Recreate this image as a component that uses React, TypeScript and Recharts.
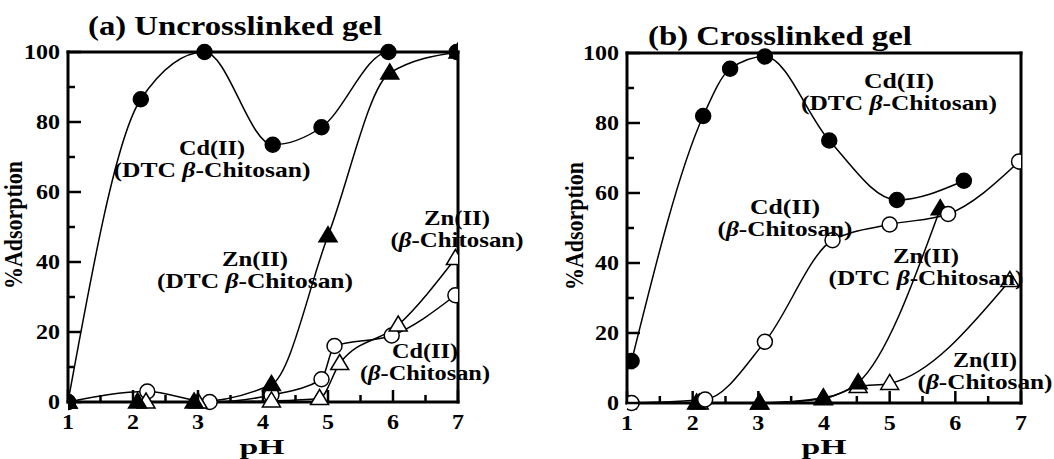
import React from 'react'
import { ComposedChart, Line, XAxis, YAxis } from 'recharts'

const FONT = '"Liberation Serif", "Times New Roman", Times, serif'

// (a) uncrosslinked gel
const phCdDtcA = [1, 2.12, 3.1, 4.15, 4.9, 5.93, 6.98]
const cdDtcA = [0, 86.5, 100, 73.5, 78.5, 100, 100]
const phZnDtcA = [1, 2.07, 2.94, 4.13, 5.0, 5.95, 7.0]
const znDtcA = [0, 0, 0, 5, 47.5, 94, 100]
const phZnBetaA = [1, 2.2, 3.0, 4.13, 4.87, 5.18, 6.08, 6.96]
const znBetaA = [0, 0, 0, 0.3, 1, 11, 22, 41]
const phCdBetaA = [1, 2.22, 3.18, 4.13, 4.9, 5.1, 5.98, 6.96]
const cdBetaA = [0, 3, 0, 2, 6.5, 16, 19, 30.5]

// (b) crosslinked gel
const phCdDtcB = [1.07, 2.16, 2.57, 3.1, 4.08, 5.11, 6.13]
const cdDtcB = [12, 82, 95.5, 99, 75, 58, 63.5]
const phCdBetaB = [1.07, 2.19, 3.1, 4.13, 5.0, 5.89, 6.97]
const cdBetaB = [0, 1, 17.5, 46.5, 51, 54, 69]
const phZnDtcB = [2.06, 3.02, 3.99, 4.52, 5.77]
const znDtcB = [0, 0, 1.5, 5.8, 55.5]
const phZnBetaB = [1.0, 2.1, 3.02, 3.99, 4.52, 5.0, 6.83]
const znBetaB = [0, 0, 0, 1.2, 4.7, 5.6, 35]

const xTicks = [1, 1.5, 2, 2.5, 3, 3.5, 4, 4.5, 5, 5.5, 6, 6.5, 7]
const yTicks = [0, 10, 20, 30, 40, 50, 60, 70, 80, 90, 100]

const pts = (xs: number[], ys: number[]) => xs.map((x, i) => ({ x, y: ys[i] }))

// glyphs in the picture are a little stretched sideways
const digitW = 12

const BottomTick = (p: any) => {
  const v = p.payload.value
  const major = Number.isInteger(v)
  return (
    <g>
      <line x1={p.x} y1={p.y} x2={p.x} y2={p.y - (major ? 12 : 7)} stroke="#000" strokeWidth={2.5} />
      {major && (
        <text x={p.x} y={p.y + 27} textAnchor="middle" fontFamily={FONT} fontWeight="bold" fontSize={21}
          textLength={digitW} lengthAdjust="spacingAndGlyphs" fill="#000">{v}</text>
      )}
    </g>
  )
}

const TopTick = (p: any) => {
  const major = Number.isInteger(p.payload.value)
  return <line x1={p.x} y1={p.y} x2={p.x} y2={p.y + (major ? 12 : 7)} stroke="#000" strokeWidth={2.5} />
}

const LeftTick = (p: any) => {
  const v = p.payload.value
  const major = v % 20 === 0
  const s = String(v)
  return (
    <g>
      <line x1={p.x} y1={p.y} x2={p.x + (major ? 13 : 7)} y2={p.y} stroke="#000" strokeWidth={2.5} />
      {major && (
        <text x={p.x - 8} y={p.y + 7} textAnchor="end" fontFamily={FONT} fontWeight="bold" fontSize={21}
          textLength={digitW * s.length} lengthAdjust="spacingAndGlyphs" fill="#000">{s}</text>
      )}
    </g>
  )
}

const dotCircle = (filled: boolean) => (p: any) => (
  <circle key={`c${p.index}`} cx={p.cx} cy={p.cy} r={7.5} fill={filled ? '#000' : '#fff'} stroke="#000" strokeWidth={1.5} />
)

const dotTriangle = (filled: boolean) => (p: any) => (
  <path key={`t${p.index}`} d={`M${p.cx},${p.cy - 9} L${p.cx + 9},${p.cy + 6} L${p.cx - 9},${p.cy + 6} Z`}
    fill={filled ? '#000' : '#fff'} stroke="#000" strokeWidth={1.5} />
)

const axisStyle = { stroke: '#000', strokeWidth: 3, strokeLinecap: 'square' as const }

interface Series {
  data: { x: number; y: number }[]
  dot: (p: any) => React.ReactElement
}

const Panel = ({ width, margin, series }: { width: number; margin: any; series: Series[] }) => (
  <ComposedChart width={width} height={459} margin={margin}>
    <XAxis xAxisId="top" orientation="top" type="number" domain={[1, 7]} ticks={xTicks} interval={0}
      height={2} axisLine={axisStyle} tickLine={false} tickSize={0} tickMargin={0} tick={(p: any) => <TopTick {...p} />} />
    <XAxis dataKey="x" type="number" domain={[1, 7]} ticks={xTicks} interval={0} allowDataOverflow
      height={40} axisLine={axisStyle} tickLine={false} tickSize={0} tickMargin={0} tick={(p: any) => <BottomTick {...p} />} />
    <YAxis type="number" domain={[0, 100]} ticks={yTicks} interval={0} width={60}
      axisLine={axisStyle} tickLine={false} tickSize={0} tickMargin={0} tick={(p: any) => <LeftTick {...p} />} />
    <YAxis yAxisId="right" orientation="right" type="number" domain={[0, 100]} width={2}
      axisLine={axisStyle} tick={false} tickLine={false} />
    {series.map((s, i) => (
      <Line key={i} data={s.data} dataKey="y" type="monotone" stroke="#000" strokeWidth={1.5}
        dot={s.dot} activeDot={false} legendType="none" isAnimationActive={false} />
    ))}
  </ComposedChart>
)

const Label2 = ({ cx, y, top, bottom, wTop, wBottom }: any) => (
  <g fontFamily={FONT} fontWeight="bold" fontSize={21} fill="#000">
    <text x={cx} y={y} textAnchor="middle" textLength={wTop} lengthAdjust="spacingAndGlyphs">{top}</text>
    <text x={cx} y={y + 22} textAnchor="middle" textLength={wBottom} lengthAdjust="spacingAndGlyphs">{bottom}</text>
  </g>
)

const dtc = <>(DTC <tspan fontStyle="italic">β</tspan>-Chitosan)</>
const beta = <>(<tspan fontStyle="italic">β</tspan>-Chitosan)</>

const YTitle = ({ x, y }: { x: number; y: number }) => (
  <g transform={`translate(${x},${y}) rotate(-90) scale(1,1.2)`}>
    <text x={0} y={6} textAnchor="middle" fontFamily={FONT} fontWeight="bold" fontSize={21}
      textLength={128} lengthAdjust="spacingAndGlyphs" fill="#000">%Adsorption</text>
  </g>
)

export default function App() {
  const seriesA: Series[] = [
    { data: pts(phCdBetaA, cdBetaA), dot: dotCircle(false) },
    { data: pts(phZnBetaA, znBetaA), dot: dotTriangle(false) },
    { data: pts(phCdDtcA, cdDtcA), dot: dotCircle(true) },
    { data: pts(phZnDtcA, znDtcA), dot: dotTriangle(true) },
  ]
  const seriesB: Series[] = [
    { data: pts(phZnBetaB, znBetaB), dot: dotTriangle(false) },
    { data: pts(phZnDtcB, znDtcB), dot: dotTriangle(true) },
    { data: pts(phCdDtcB, cdDtcB), dot: dotCircle(true) },
    { data: pts(phCdBetaB, cdBetaB), dot: dotCircle(false) },
  ]
  return (
    <div style={{ position: 'absolute', left: 0, top: 0, width: 1054, height: 459, background: '#fff', overflow: 'hidden' }}>
      <div style={{ position: 'absolute', left: 0, top: 0 }}>
        <Panel width={520} margin={{ top: 50, right: 60, bottom: 17, left: 8 }} series={seriesA} />
      </div>
      <div style={{ position: 'absolute', left: 530, top: 0 }}>
        <Panel width={524} margin={{ top: 51, right: 31, bottom: 16, left: 37 }} series={seriesB} />
      </div>
      <svg width={1054} height={459} style={{ position: 'absolute', left: 0, top: 0, pointerEvents: 'none' }}>
        <g fontFamily={FONT} fontWeight="bold" fontSize={28} fill="#000">
          <text x={88} y={35} textLength={294} lengthAdjust="spacingAndGlyphs">(a) Uncrosslinked gel</text>
          <text x={648} y={45} textLength={264} lengthAdjust="spacingAndGlyphs">(b) Crosslinked gel</text>
        </g>
        <g fontFamily={FONT} fontWeight="bold" fontSize={22} fill="#000">
          <text x={262} y={454} textAnchor="middle" textLength={45} lengthAdjust="spacingAndGlyphs">pH</text>
          <text x={824} y={454} textAnchor="middle" textLength={45} lengthAdjust="spacingAndGlyphs">pH</text>
        </g>
        <YTitle x={15} y={225} />
        <YTitle x={576} y={226} />

        <Label2 cx={212} y={155} top="Cd(II)" bottom={dtc} wTop={66} wBottom={197} />
        <Label2 cx={255} y={266} top="Zn(II)" bottom={dtc} wTop={66} wBottom={196} />
        <Label2 cx={457} y={225} top="Zn(II)" bottom={beta} wTop={66} wBottom={133} />
        <Label2 cx={425} y={358} top="Cd(II)" bottom={beta} wTop={66} wBottom={130} />

        <Label2 cx={899} y={88} top="Cd(II)" bottom={dtc} wTop={70} wBottom={196} />
        <Label2 cx={785} y={214} top="Cd(II)" bottom={beta} wTop={70} wBottom={135} />
        <Label2 cx={926} y={263} top="Zn(II)" bottom={dtc} wTop={66} wBottom={195} />
        <Label2 cx={985} y={367} top="Zn(II)" bottom={beta} wTop={64} wBottom={135} />
      </svg>
    </div>
  )
}
